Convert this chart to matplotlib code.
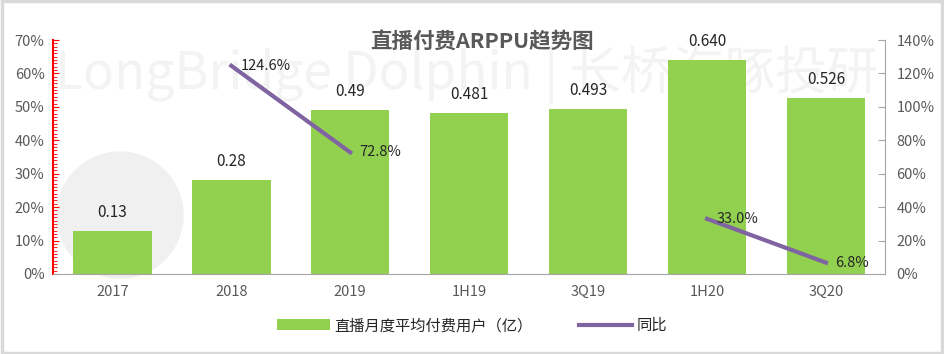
import numpy as np
import matplotlib.pyplot as plt
from matplotlib.patches import Ellipse, Rectangle
from matplotlib.ticker import MultipleLocator, FuncFormatter

plt.rcParams['font.family'] = ['Noto Sans CJK SC', 'DejaVu Sans']

periods = ['2017', '2018', '2019', '1H19', '3Q19', '1H20', '3Q20']
users = [0.13, 0.28, 0.49, 0.481, 0.493, 0.640, 0.526]
user_labels = ['0.13', '0.28', '0.49', '0.481', '0.493', '0.640', '0.526']
yoy = [np.nan, 124.6, 72.8, np.nan, np.nan, 33.0, 6.8]

txt = '#595959'
green = '#92D050'
purple = '#8064A2'

fig = plt.figure(figsize=(9.44, 3.54), dpi=100)
fig.patches.append(Rectangle((0.002, 0.004), 0.996, 0.992, transform=fig.transFigure,
                             fill=False, edgecolor='#d9d9d9', linewidth=2.5))

# watermark
fig.text(0.058, 0.79, 'LongBridge Dolphin | 长桥海豚投研', fontsize=37, color='#f3f3f3',
         ha='left', va='center', zorder=0)
fig.patches.append(Ellipse((120 / 944, 1 - 215 / 354), 126 / 944, 126 / 354,
                           transform=fig.transFigure, color='#f0f0f0', zorder=0))

ax = fig.add_axes([0.056, 0.226, 0.882, 0.661])
ax2 = ax.twinx()
x = np.arange(len(periods))

ax.bar(x, np.array(users) * 100, width=0.66, color=green, zorder=2,
       label='直播月度平均付费用户（亿）')
for xi, v, s in zip(x, users, user_labels):
    ax.text(xi, v * 100 + 3, s, ha='center', va='bottom', fontsize=11, color='#262626')

ax.set_xlim(-0.5, len(periods) - 0.5)
ax.set_ylim(0, 70)
ax.yaxis.set_major_locator(MultipleLocator(10))
ax.yaxis.set_minor_locator(MultipleLocator(1))
ax.yaxis.set_major_formatter(FuncFormatter(lambda v, p: f'{v:.0f}%'))
ax.set_xticks(x)
ax.set_xticklabels(periods)
ax.tick_params(axis='x', length=0, labelsize=10.5, labelcolor=txt, pad=8)
ax.tick_params(axis='y', which='both', direction='in', colors='red', labelcolor=txt,
               labelsize=10.5, pad=6)
ax.tick_params(axis='y', which='major', length=4)
ax.tick_params(axis='y', which='minor', length=3)
ax.spines['left'].set_color('red')
ax.spines['left'].set_linewidth(1.5)
ax.spines['bottom'].set_color('#a6a6a6')
ax.spines['top'].set_visible(False)
ax.spines['right'].set_visible(False)

ax2.plot(x, yoy, color=purple, linewidth=3, zorder=3, label='同比')
for xi, v in zip(x, yoy):
    if not np.isnan(v):
        ax2.text(xi + 0.08, v, f'{v:.1f}%', ha='left', va='center', fontsize=10.5, color='#262626')
ax2.set_ylim(0, 140)
ax2.yaxis.set_major_locator(MultipleLocator(20))
ax2.yaxis.set_major_formatter(FuncFormatter(lambda v, p: f'{v:.0f}%'))
ax2.tick_params(axis='y', direction='in', length=5, colors='#a6a6a6', labelcolor=txt,
                labelsize=10.5, pad=8)
ax2.spines['right'].set_color('#a6a6a6')
for s in ['top', 'left', 'bottom']:
    ax2.spines[s].set_visible(False)

ax.set_zorder(1)
ax2.set_zorder(2)
ax.patch.set_visible(False)
ax2.patch.set_visible(False)

fig.text(0.51, 0.885, '直播付费ARPPU趋势图', ha='center', va='center', fontsize=15.5,
         fontweight='bold', color=txt)

h1, l1 = ax.get_legend_handles_labels()
h2, l2 = ax2.get_legend_handles_labels()
fig.legend(h1 + h2, l1 + l2, loc='center', bbox_to_anchor=(0.5, 0.08), ncol=2, frameon=False,
           fontsize=11, labelcolor='#262626', handlelength=3.5, columnspacing=3,
           handletextpad=0.3)

fig.savefig('out.png', dpi=100)
